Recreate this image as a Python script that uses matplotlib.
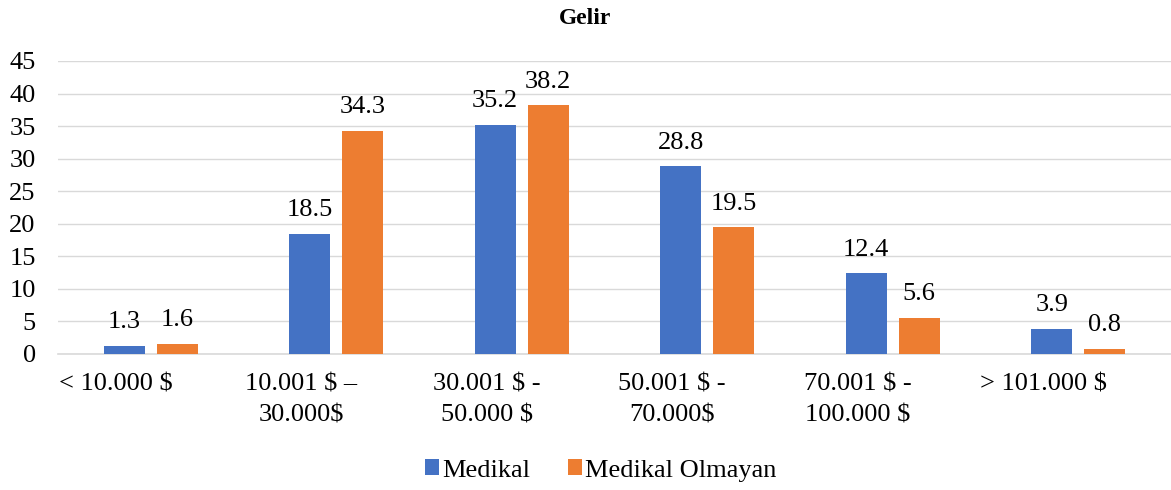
import numpy as np
import matplotlib.pyplot as plt
from matplotlib.transforms import ScaledTranslation

plt.rcParams['font.family'] = ['Liberation Serif', 'DejaVu Serif']

categories = ['< 10.000 $', '10.001 $ –\n30.000$', '30.001 $ -\n50.000 $',
              '50.001 $ -\n70.000$', '70.001 $ -\n100.000 $', '> 101.000 $']
medikal = [1.3, 18.5, 35.2, 28.8, 12.4, 3.9]
medikal_olmayan = [1.6, 34.3, 38.2, 19.5, 5.6, 0.8]

blue = '#4472C4'
orange = '#ED7D31'

fig = plt.figure(figsize=(11.71, 4.9), dpi=100)
ax = fig.add_axes([0.0495, 0.2776, 0.9505, 0.598])

x = np.arange(len(categories))
w = 0.22
off = 0.143
b1 = ax.bar(x - off, medikal, w, color=blue, label='Medikal', zorder=3)
b2 = ax.bar(x + off, medikal_olmayan, w, color=orange, label='Medikal Olmayan', zorder=3)

for bars in (b1, b2):
    for r in bars:
        ax.annotate(f'{r.get_height():.1f}', (r.get_x() + r.get_width() / 2, r.get_height()),
                    xytext=(0, 9), textcoords='offset points', ha='center', va='bottom',
                    fontsize=19)

ax.set_xlim(-0.5, len(categories) - 0.5)
ax.set_ylim(0, 45)
ax.set_yticks(range(0, 50, 5))
ax.grid(axis='y', color='#d9d9d9', linewidth=1, zorder=0)
for s in ['top', 'right', 'left']:
    ax.spines[s].set_visible(False)
ax.spines['bottom'].set_color('#d9d9d9')
ax.spines['bottom'].set_linewidth(1.2)
ax.tick_params(axis='both', length=0, labelsize=19)
ax.tick_params(axis='x', pad=14)
ax.tick_params(axis='y', pad=16)
ax.set_xticks(x)
ax.set_xticklabels(categories, linespacing=1.55)
# Excel draws the category labels a bit left of the group centre
shift = ScaledTranslation(-0.35, 0, fig.dpi_scale_trans)
for lbl in ax.get_xticklabels():
    lbl.set_transform(lbl.get_transform() + shift)

fig.text(0.5, 0.962, 'Gelir', ha='center', va='center', fontsize=17, fontweight='bold')
fig.legend(loc='center', bbox_to_anchor=(0.513, 0.04), ncol=2, frameon=False, fontsize=19,
           handlelength=0.55, handleheight=0.55, handletextpad=0.12, columnspacing=1.4)

fig.savefig('out.png', dpi=100)
